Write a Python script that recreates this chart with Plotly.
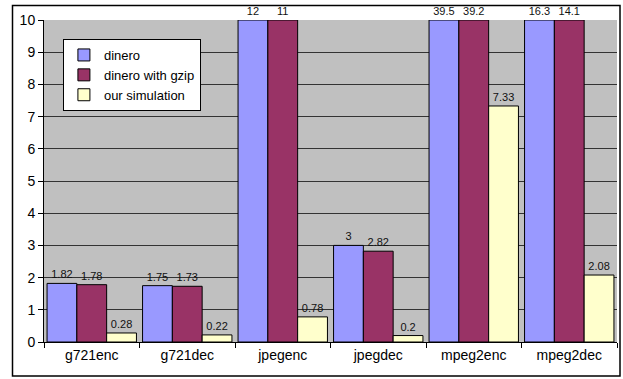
import numpy as np
import plotly.graph_objects as go

categories = ["g721enc", "g721dec", "jpegenc", "jpegdec", "mpeg2enc", "mpeg2dec"]
dinero = [1.82, 1.75, 12, 3, 39.5, 16.3]
dinero_gzip = [1.78, 1.73, 11, 2.82, 39.2, 14.1]
our_sim = [0.28, 0.22, 0.78, 0.2, 7.33, 2.08]
y_ticks = list(range(0, 11))

YMAX = 10
series = [
    ("dinero", dinero, "#9999FF"),
    ("dinero with gzip", dinero_gzip, "#993366"),
    ("our simulation", our_sim, "#FFFFCC"),
]

fig = go.Figure()
for name, vals, col in series:
    fig.add_trace(go.Bar(
        name=name,
        x=categories,
        y=np.minimum(np.array(vals, dtype=float), YMAX),
        text=[f"{v:g}" for v in vals],
        textposition="outside",
        texttemplate="%{text}",
        textfont=dict(family="Arial, Liberation Sans, sans-serif", size=11, color="#111111"),
        cliponaxis=False,
        marker=dict(color=col, line=dict(color="black", width=1)),
    ))

fig.update_layout(
    width=623, height=379,
    margin=dict(l=44, r=6, t=20, b=37),
    barmode="group",
    bargap=0.064,
    bargroupgap=0,
    paper_bgcolor="white",
    plot_bgcolor="#C0C0C0",
    font=dict(family="Arial, Liberation Sans, sans-serif", size=13, color="black"),
    showlegend=True,
    legend=dict(
        x=0.033, y=0.941, xanchor="left", yanchor="top",
        bgcolor="white", bordercolor="black", borderwidth=1,
        font=dict(size=13, color="black"),
        tracegroupgap=0, itemwidth=30,
    ),
    xaxis=dict(
        type="category",
        showgrid=False,
        ticks="outside", tickson="boundaries", ticklen=5, tickcolor="black",
        showline=True, linecolor="black", linewidth=1,
        tickfont=dict(size=14),
    ),
    yaxis=dict(
        range=[0, YMAX],
        tickvals=y_ticks,
        showgrid=True, gridcolor="#333333", gridwidth=1,
        ticks="outside", ticklen=5, tickcolor="black",
        showline=True, linecolor="black", linewidth=1,
        zeroline=False,
        tickfont=dict(size=14),
    ),
    shapes=[
        dict(type="rect", xref="paper", yref="paper",
             x0=(12.5 - 44) / 573, x1=(620 - 44) / 573,
             y0=-(376 - 342) / 322, y1=1 + (20 - 5.5) / 322,
             line=dict(color="black", width=1.5), fillcolor="rgba(0,0,0,0)", layer="above"),
    ],
)

fig.write_html("out.html", config={"displayModeBar": False},
               post_script="document.body.style.margin='0';")
